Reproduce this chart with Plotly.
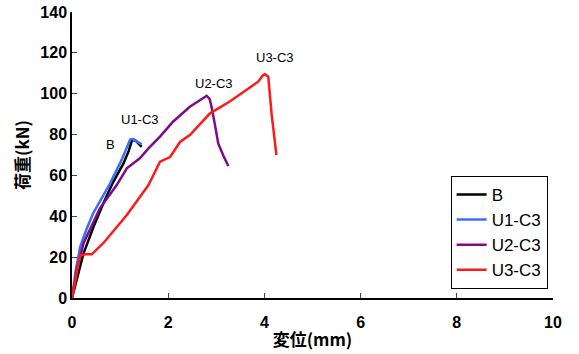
import plotly.graph_objects as go

# Data (displacement mm, load kN)
b_x = [0, 0.24, 0.45, 0.65, 0.85, 1.07, 1.18, 1.25, 1.32, 1.45]
b_y = [0, 21.9, 35.0, 46.3, 56.5, 65.9, 72.0, 77.5, 77.0, 74.0]

u1_x = [0, 0.08, 0.17, 0.30, 0.44, 0.62, 0.79, 1.03, 1.21, 1.27, 1.35, 1.45]
u1_y = [0, 14.0, 25.0, 33.5, 41.5, 49.0, 56.0, 67.5, 77.6, 77.8, 76.8, 75.2]

u2_x = [0, 0.10, 0.24, 0.58, 0.93, 1.14, 1.41, 1.60, 1.83, 2.10, 2.45, 2.70, 2.80, 2.86, 2.90, 2.97, 3.04, 3.15, 3.25]
u2_y = [0, 14.0, 26.8, 43.9, 55.3, 63.5, 68.4, 73.5, 79.0, 86.3, 93.6, 97.5, 99.0, 97.5, 93.7, 85.0, 75.7, 69.5, 64.6]

u3_x = [0, 0.17, 0.30, 0.41, 0.65, 1.14, 1.59, 1.83, 2.04, 2.25, 2.45, 2.87, 3.28, 3.70, 3.87, 3.97, 4.01, 4.08, 4.15, 4.25]
u3_y = [0, 21.0, 21.4, 21.4, 26.8, 40.6, 55.3, 66.7, 69.0, 76.5, 79.8, 90.4, 96.2, 103.4, 105.9, 109.0, 109.5, 108.3, 90.0, 70.0]

names = ["B", "U1-C3", "U2-C3", "U3-C3"]
colors = ["#000000", "#3a6ff7", "#7f0a8a", "#ff1a1a"]
series = [(b_x, b_y), (u1_x, u1_y), (u2_x, u2_y), (u3_x, u3_y)]

# annotation positions (data coords)
ann_x = [0.81, 1.41, 2.95, 4.22]
ann_y = [74.9, 87.6, 105.0, 117.5]

x_ticks = [0, 2, 4, 6, 8, 10]
y_ticks = [0, 20, 40, 60, 80, 100, 120, 140]

fig = go.Figure()
for (xs, ys), n, c in zip(series, names, colors):
    fig.add_trace(go.Scatter(x=xs, y=ys, mode="lines", name=n,
                             line=dict(color=c, width=2.5)))

for n, ax, ay in zip(names, ann_x, ann_y):
    fig.add_annotation(x=ax, y=ay, text=n, showarrow=False,
                       font=dict(size=13, color="black",
                                 family="Liberation Sans, Arial, sans-serif"))

font_main = "Liberation Sans, Arial, Noto Sans CJK JP, sans-serif"
fig.update_layout(
    width=579, height=354,
    margin=dict(l=72, r=26, t=12, b=56),
    paper_bgcolor="white", plot_bgcolor="white",
    font=dict(family=font_main, color="black"),
    showlegend=True,
    legend=dict(x=0.888, y=0.427, xanchor="center", yanchor="top",
                bgcolor="white", bordercolor="black", borderwidth=1,
                font=dict(size=17, family=font_main),
                itemwidth=30, tracegroupgap=0),
    xaxis=dict(range=[0, 10], tickvals=x_ticks, ticks="inside", ticklen=5,
               showline=True, linecolor="black", linewidth=1.5,
               showgrid=False, zeroline=False, automargin=False,
               ticklabelstandoff=9,
               tickfont=dict(size=16, family=font_main, weight="bold"),
               title=dict(text="変位(mm)", standoff=4,
                          font=dict(size=17, family="Noto Sans CJK JP, sans-serif", weight="bold"))),
    yaxis=dict(range=[0, 140], tickvals=y_ticks, ticks="inside", ticklen=5,
               showline=True, linecolor="black", linewidth=1.5,
               showgrid=False, zeroline=False, automargin=False,
               tickfont=dict(size=16, family=font_main, weight="bold"),
               title=dict(text="荷重(kN)", standoff=6,
                          font=dict(size=17, family="Noto Sans CJK JP, sans-serif", weight="bold"))),
)

fig.write_html("out.html")
